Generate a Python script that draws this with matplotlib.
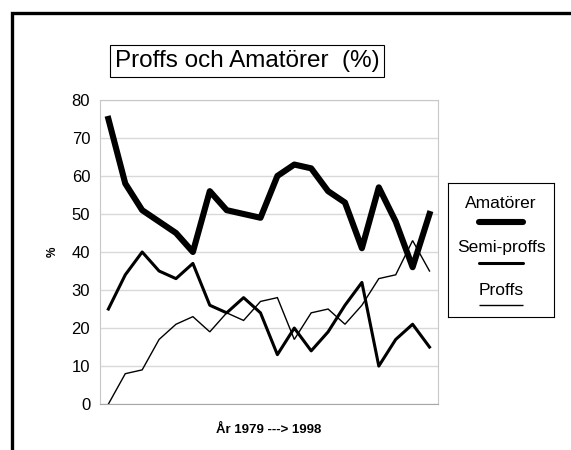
import matplotlib.pyplot as plt
import numpy as np
from matplotlib.lines import Line2D
from matplotlib.patches import Rectangle

plt.rcParams['font.family'] = ['Liberation Sans', 'DejaVu Sans']

# Andel (%) per år, 1979 -> 1998
years = list(range(1979, 1999))
amatorer = [75, 58, 51, 48, 45, 40, 56, 51, 50, 49, 60, 63, 62, 56, 53, 41, 57, 48, 36, 50]
semi_proffs = [25, 34, 40, 35, 33, 37, 26, 24, 28, 24, 13, 20, 14, 19, 26, 32, 10, 17, 21, 15]
proffs = [0, 8, 9, 17, 21, 23, 19, 24, 22, 27, 28, 17, 24, 25, 21, 26, 33, 34, 43, 35]

series = [("Amatörer", amatorer, 4.4),
          ("Semi-proffs", semi_proffs, 2.2),
          ("Proffs", proffs, 1.0)]

fig = plt.figure(figsize=(5.71, 4.5), dpi=100)
ax = fig.add_axes([0.175, 0.102, 0.592, 0.676])

x = np.arange(len(years))
for name, vals, lw in series:
    ax.plot(x, vals, color='black', linewidth=lw, solid_joinstyle='miter' if lw < 2 else 'round')

ax.set_xlim(-0.5, len(years) - 0.5)
ax.set_ylim(0, 80)
ax.set_yticks(np.arange(0, 81, 10))
ax.set_xticks([])
ax.tick_params(axis='y', length=0, labelsize=12, pad=7)
ax.grid(axis='y', color='#d9d9d9', linewidth=1)
ax.set_axisbelow(True)
for side in ['left', 'top', 'right']:
    ax.spines[side].set_color('#c8c8c8')
ax.spines['bottom'].set_color('#a6a6a6')

ax.set_ylabel('%', fontsize=8.5, fontweight='bold', labelpad=9)
ax.set_xlabel('År 1979 ---> 1998', fontsize=9.5, fontweight='bold', labelpad=14)

# title in a box
fig.text(247 / 571, 1 - 61 / 450, 'Proffs och Amatörer  (%)', fontsize=17.5,
         ha='center', va='center',
         bbox=dict(boxstyle='square,pad=0.2', facecolor='white', edgecolor='black', linewidth=0.8))

# legend: text above each line sample
lax = fig.add_axes([448 / 571, 1 - 317 / 450, 106 / 571, 134 / 450])
lax.set_xlim(0, 1)
lax.set_ylim(0, 1)
lax.set_xticks([])
lax.set_yticks([])
for sp in lax.spines.values():
    sp.set_linewidth(0.8)
text_y = [0.85, 0.52, 0.20]
line_y = [0.71, 0.40, 0.09]
for (name, vals, lw), ty, ly in zip(series, text_y, line_y):
    lax.text(0.5, ty, name, ha='center', va='center', fontsize=12.5)
    lax.add_line(Line2D([0.29, 0.71], [ly, ly], color='black', linewidth=lw,
                        solid_capstyle='round' if lw > 2 else 'butt'))

# outer frame (only top and left edges visible)
fig.add_artist(Rectangle((12 / 571, -0.2), 1.2, 1.2 - 13 / 450,
                         transform=fig.transFigure, fill=False,
                         edgecolor='black', linewidth=2.4))

fig.savefig('out.png', dpi=100)
